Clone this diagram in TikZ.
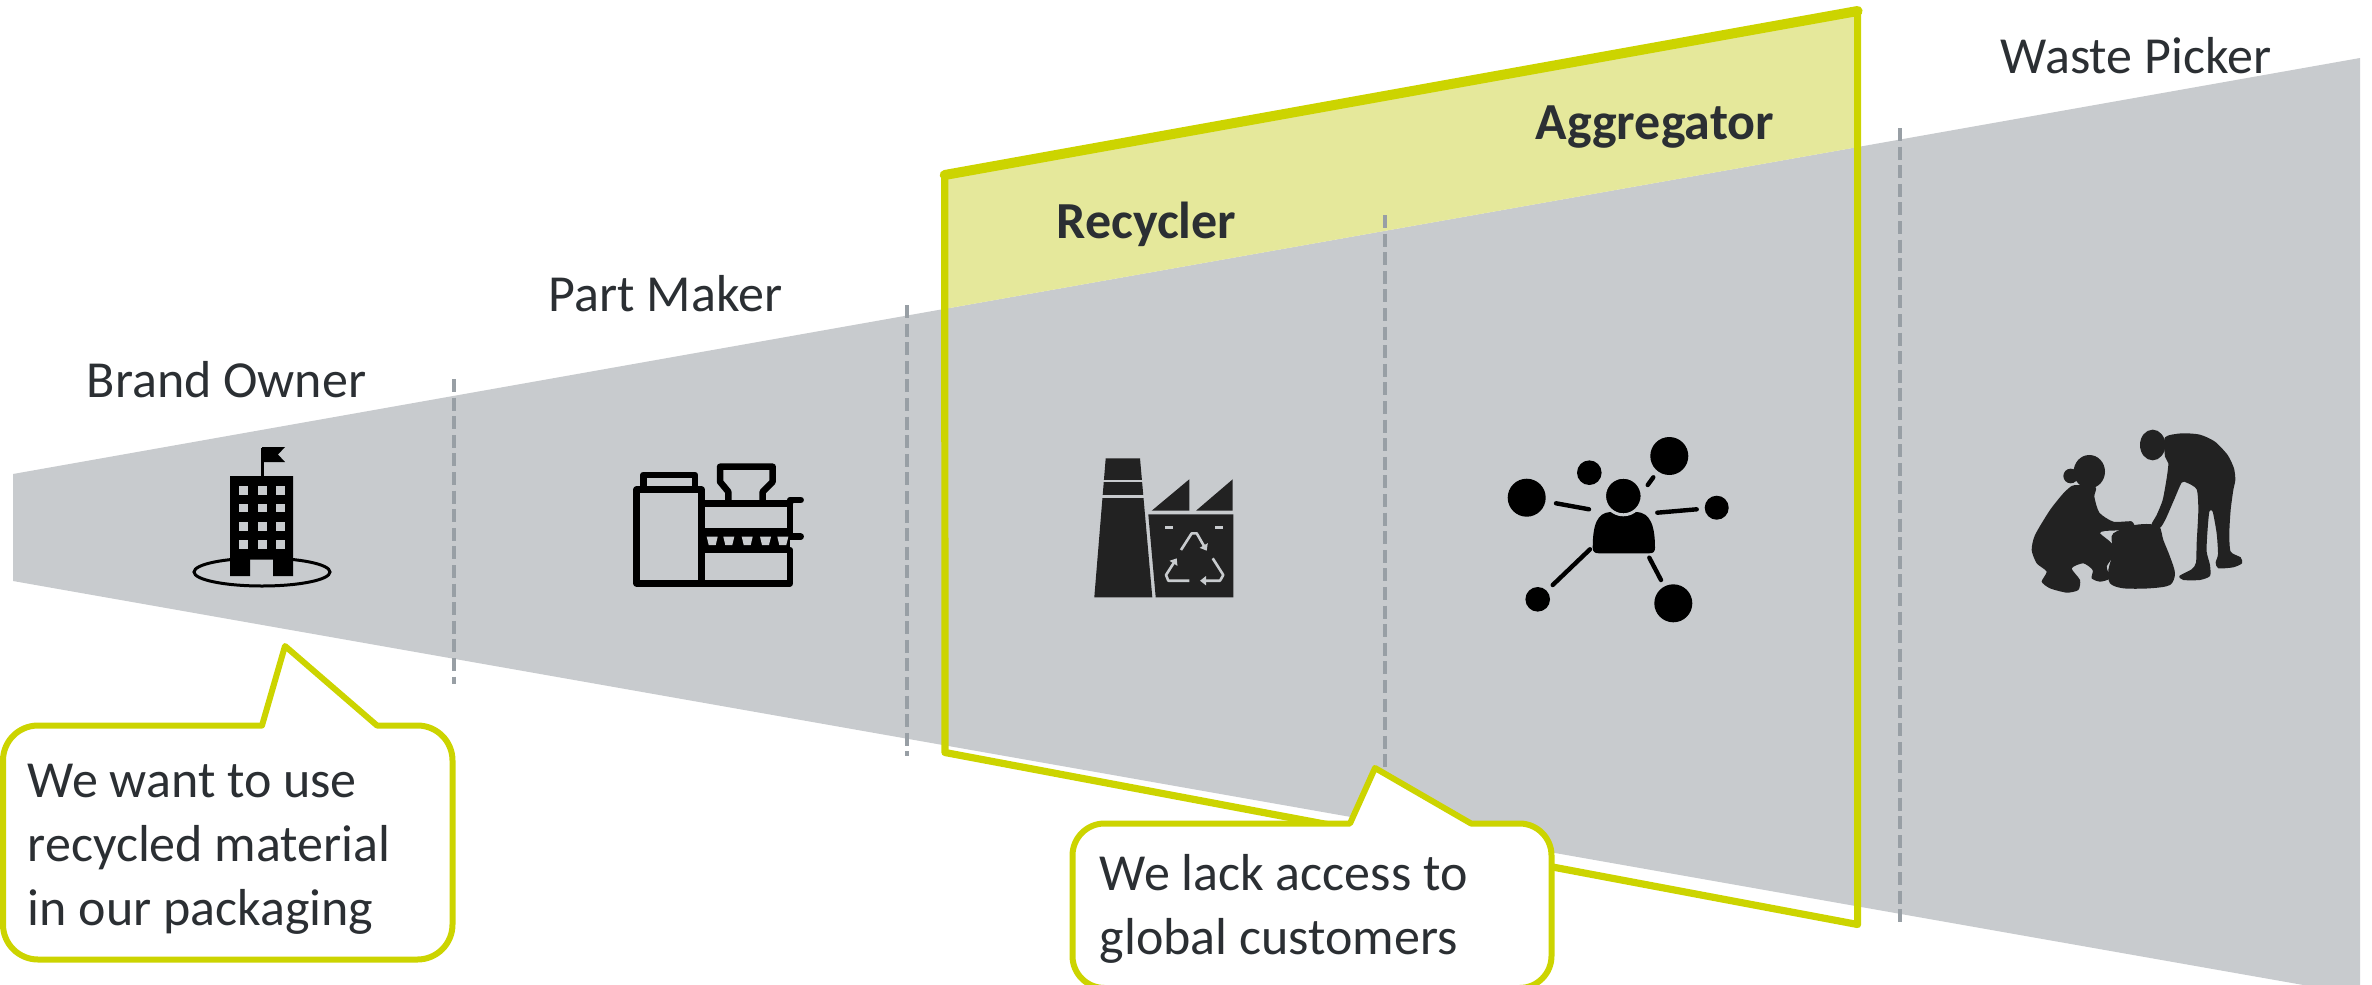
\documentclass[tikz,border=0pt]{standalone}
\usepackage{fontspec}
\setmainfont{Carlito}
\usetikzlibrary{arrows.meta}

\definecolor{funnelgray}{RGB}{200,203,206}
\definecolor{limeline}{RGB}{204,212,0}
\definecolor{limefill}{RGB}{229,232,155}
\definecolor{dashgray}{RGB}{152,159,165}
\definecolor{txtdark}{RGB}{43,47,51}
\definecolor{iconblack}{RGB}{34,34,34}

\tikzset{every picture/.style={line width=0.75pt}}
\tikzset{
  stagelbl/.style={anchor=base west, inner sep=0pt, text=txtdark, font=\fontsize{26}{32}\selectfont},
  bubbletxt/.style={anchor=base west, inner sep=0pt, align=left, text=txtdark, font=\fontsize{26}{32}\selectfont},
  sepline/.style={draw=dashgray, line width=1.9pt, dash pattern={on 6.5pt off 2.8pt}},
  bubble/.style={draw=limeline, line width=3pt, fill=white, line join=round},
  machine/.style={draw=black, line width=3.25pt, line join=round, line cap=round},
  recyarrow/.style={draw=funnelgray, line width=1.3pt, line join=round, -{Triangle[length=3pt,width=4.5pt]}},
  netlink/.style={draw=black, line width=2.2pt, line cap=round},
}

\begin{document}
\begin{tikzpicture}[x=0.5pt,y=0.5pt,yscale=-1,xscale=1]
\useasboundingbox (0,0) rectangle (2372,985);
\clip (0,0) rectangle (2372,985);

%Shape: value chain funnel
\fill[funnelgray] (13,474) -- (2360,58) -- (2360,995) -- (13,581) -- cycle;
%Shape: highlight above funnel
\fill[limefill] (944.7,175) -- (1857.6,11) -- (1857.6,147.1) -- (944.7,308.9) -- cycle;

%Straight Lines: stage separators
\draw[sepline] (454,379) -- (454,684);
\draw[sepline] (907,305) -- (907,756);
\draw[sepline] (1385,215) -- (1385,830);
\draw[sepline] (1900,128) -- (1900,923);

%Shape: highlight frame
\draw[draw=limeline, line width=3.6pt, line join=round] (944.7,175) -- (1857.6,11) -- (1857.6,924.5) -- (945,752.5) -- cycle;
\draw[draw=limeline, line width=5pt, line cap=round] (944.7,175) -- (1857.6,11);

% Text Node
\draw (86,397) node[stagelbl] (brand) {Brand Owner};
% Text Node
\draw (548,311) node[stagelbl] (partmaker) {Part Maker};
% Text Node
\draw (1056,238) node[stagelbl, font=\fontsize{26}{32}\selectfont\bfseries] (recycler) {Recycler};
% Text Node
\draw (1535,139) node[stagelbl, font=\fontsize{26}{32}\selectfont\bfseries] (aggregator) {Aggregator};
% Text Node
\draw (2000,73) node[stagelbl] (picker) {Waste Picker};

%Shape: office tower
\draw[black, line width=1.5pt] (262,572) ellipse [x radius=68, y radius=14];
\fill[black] (230,476) -- (293,476) -- (293,576) -- (273,576) -- (273,558) -- (250,558) -- (250,576) -- (230,576) -- cycle;
\foreach \wx in {239,257.5,276}
  \foreach \wy in {486,503.5,522,540}
    \fill[funnelgray] (\wx,\wy) rectangle ++(9,8.5);
\draw[black, line width=1.5pt] (262,477) -- (262,448);
\fill[black] (262,447) -- (285,447) -- (278,454.5) -- (285,462) -- (262,462) -- cycle;

%Shape: moulding machine
\draw[machine] (636.7,489.7) rectangle (701.7,583.3);
\draw[machine] (643.3,489.7) -- (643.3,475) -- (695,475) -- (695,489.7);
\draw[machine] (701.7,503.7) -- (790,503.7);
\draw[machine] (800.7,500) -- (790,500) -- (790,536.7) -- (800.7,536.7);
\draw[machine] (728.3,503.7) -- (728.3,491.7) -- (720,481.7) -- (720,466.7) -- (772.7,466.7) -- (772.7,481.7) -- (762.7,491.7) -- (762.7,503.7);
\fill[black] (701.7,528.3) rectangle (790,551.7);
\foreach \hx in {706.7,723.3,741.7,760,777.3}
  \fill[funnelgray] (\hx,536.7) -- ++(11,0) -- ++(-2,8.3) -- ++(-7,0) -- cycle;
\draw[machine] (701.7,550) -- (790,550) -- (790,583.3) -- (701.7,583.3);

%Shape: recycling plant
\fill[iconblack] (1105.7,458.3) -- (1140,458.3) -- (1152.3,597.3) -- (1094.3,597.3) -- cycle;
\draw[funnelgray, line width=1.35pt] (1090,481) -- (1146,481);
\draw[funnelgray, line width=1.35pt] (1090,496.7) -- (1147,496.7);
\fill[iconblack] (1148.3,514.3) -- (1233.3,514.3) -- (1233.3,597.3) -- (1155.7,597.3) -- cycle;
\fill[iconblack] (1151.7,510.7) -- (1189.3,479.3) -- (1189.3,510.7) -- cycle;
\fill[iconblack] (1196,510.7) -- (1232.7,479.3) -- (1232.7,510.7) -- cycle;
\draw[funnelgray, line width=1.25pt] (1165,527.7) -- (1173.3,527.7);
\draw[funnelgray, line width=1.25pt] (1215,527.7) -- (1223.3,527.7);
\draw[recyarrow] (1181,550) -- (1191.7,533.3) -- (1196.7,533.3) -- (1206.7,550.7);
\draw[recyarrow] (1212.7,558.3) -- (1223.3,575) -- (1220,580.7) -- (1200,580.7);
\draw[recyarrow] (1189.3,580.7) -- (1168.3,580.7) -- (1166,575) -- (1176.7,558.3);

%Shape: aggregator network
\draw[netlink] (1556,503.3) -- (1589,509.3);
\draw[netlink] (1647.7,485) -- (1653.3,477.3);
\draw[netlink] (1657.3,512.7) -- (1696.7,509.3);
\draw[netlink] (1590,549.3) -- (1552.7,585);
\draw[netlink] (1649.3,557.7) -- (1661,580);
\fill[black] (1526.7,497.7) circle[radius=19];
\fill[black] (1589.3,472.7) circle[radius=12.3];
\fill[black] (1669.3,456) circle[radius=19];
\fill[black] (1716.7,507.7) circle[radius=12];
\fill[black] (1537.7,599.3) circle[radius=12.3];
\fill[black] (1673.3,603.3) circle[radius=19];
\fill[black] (1592.7,548) .. controls (1592.7,525) and (1597,513) .. (1610,512) -- (1637,512) .. controls (1650,513) and (1655,525) .. (1655,548) .. controls (1655,552) and (1653,553.3) .. (1649,553.3) -- (1599,553.3) .. controls (1595,553.3) and (1592.7,552) .. (1592.7,548) -- cycle;
\draw[funnelgray, line width=1.5pt, fill=black] (1623.3,496) circle[radius=18.8];

%Shape: waste pickers
\begin{scope}[shift={(2000,400)}, scale=0.3333]
\fill[iconblack] (458,135) ellipse [x radius=38, y radius=46];
\fill[iconblack] plot[smooth cycle, tension=0.4] coordinates {(495,112) (545,100) (600,104) (645,125) (683,165) (702,205) (706,240) (700,270) (692,330) (688,400) (692,455) (722,472) (726,490) (700,502) (655,505) (647,488) (654,462) (650,400) (638,335) (628,335) (622,400) (620,455) (630,495) (630,528) (600,540) (550,540) (538,528) (575,508) (588,488) (590,430) (595,330) (590,268) (560,248) (545,248) (522,300) (498,355) (482,382) (462,388) (455,372) (470,345) (488,300) (500,235) (505,190) (495,170)};
\fill[iconblack] (268,215) ellipse [x radius=47, y radius=50];
\fill[iconblack] (212,228) circle[radius=22];
\fill[iconblack] plot[smooth cycle, tension=0.4] coordinates {(235,255) (287,262) (283,290) (298,338) (340,365) (395,364) (402,380) (370,390) (315,393) (300,400) (335,430) (342,465) (320,500) (330,535) (300,545) (275,535) (278,510) (250,490) (215,505) (240,540) (235,570) (200,578) (150,565) (125,545) (140,515) (110,490) (95,450) (105,405) (150,330) (190,280) (215,258)};
\fill[iconblack] plot[smooth cycle, tension=0.5] coordinates {(340,400) (390,378) (440,372) (478,380) (490,420) (510,470) (525,520) (510,555) (450,565) (370,565) (330,550) (325,510) (338,460) (335,420)};
\end{scope}

%Shape: speech bubble, brand owner
\draw[bubble] (285,646) -- (377,725.5) -- (417.5,725.5) arc[start angle=-90, end angle=0, radius=35] -- (452.5,924.5) arc[start angle=0, end angle=90, radius=35] -- (38,959.5) arc[start angle=90, end angle=180, radius=35] -- (3,760.5) arc[start angle=180, end angle=270, radius=35] -- (262,725.5) -- cycle;
% Text Node (anchored on its last line)
\draw (27,925) node[bubbletxt] (wantnote) {We want to use\\recycled material\\in our packaging};

%Shape: speech bubble, recycler
\draw[bubble] (1375,768) -- (1471,823.5) -- (1519.5,823.5) arc[start angle=-90, end angle=0, radius=32] -- (1551.5,956) arc[start angle=0, end angle=90, radius=32] -- (1104.5,988) arc[start angle=90, end angle=180, radius=32] -- (1072.5,855.5) arc[start angle=180, end angle=270, radius=32] -- (1350,823.5) -- cycle;
% Text Node (anchored on its last line)
\draw (1099,954) node[bubbletxt] (lacknote) {We lack access to\\global customers};

\end{tikzpicture}
\end{document}
